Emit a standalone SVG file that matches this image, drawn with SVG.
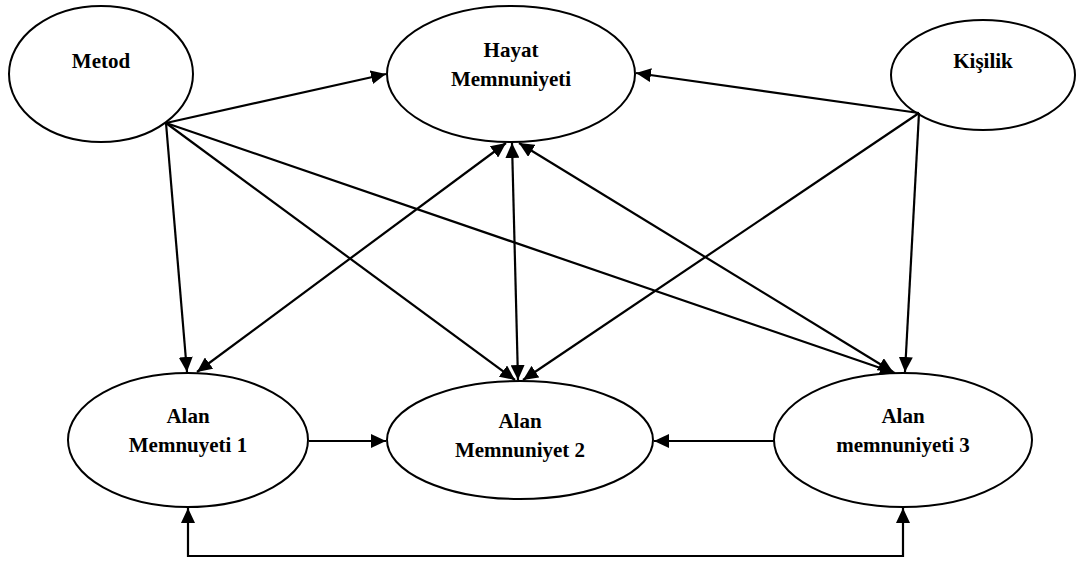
<svg xmlns="http://www.w3.org/2000/svg" width="1080" height="563" viewBox="0 0 1080 563">
<style>
.node ellipse{fill:#fff;stroke:#000;stroke-width:2}
.node text{font-family:"Liberation Serif","Times New Roman",serif;font-weight:bold;font-size:21px;fill:#000;text-anchor:middle}
.conn line,.conn path{stroke:#000;stroke-width:2.2;fill:none}
.one{marker-end:url(#ah)}
.two{marker-end:url(#ah);marker-start:url(#ah)}
</style>
<defs>
<marker id="ah" markerUnits="userSpaceOnUse" markerWidth="16" markerHeight="14" refX="15" refY="7" orient="auto-start-reverse" viewBox="0 0 16 14">
<path d="M0,0 L15,7 L0,14 z" fill="#000"/>
</marker>
</defs>
<rect width="1080" height="563" fill="#fff"/>
<g id="nodes">
<g id="metod" class="node"><ellipse cx="101" cy="74" rx="92" ry="68"/><text x="101" y="68">Metod</text></g>
<g id="hayat" class="node"><ellipse cx="511" cy="74" rx="124" ry="68"/><text x="511" y="57">Hayat</text><text x="511" y="86">Memnuniyeti</text></g>
<g id="kisilik" class="node"><ellipse cx="983" cy="75" rx="92" ry="55"/><text x="983" y="68">Kişilik</text></g>
<g id="alan1" class="node"><ellipse cx="188" cy="440" rx="120" ry="67"/><text x="188" y="423">Alan</text><text x="188" y="452">Memnuyeti 1</text></g>
<g id="alan2" class="node"><ellipse cx="520" cy="440" rx="133" ry="59"/><text x="520" y="428">Alan</text><text x="520" y="457">Memnuniyet 2</text></g>
<g id="alan3" class="node"><ellipse cx="903" cy="440" rx="129" ry="67"/><text x="903" y="423">Alan</text><text x="903" y="452">memnuniyeti 3</text></g>
</g>
<g id="connectors" class="conn">
<line class="one" x1="166" y1="123" x2="386" y2="74"/>
<line class="one" x1="166" y1="123" x2="187" y2="372"/>
<line class="one" x1="166" y1="123" x2="515" y2="380"/>
<line class="one" x1="166" y1="123" x2="895" y2="373"/>
<line class="one" x1="919" y1="113" x2="636" y2="73"/>
<line class="one" x1="919" y1="113" x2="523" y2="380"/>
<line class="one" x1="919" y1="113" x2="905" y2="372"/>
<line class="two" x1="197" y1="372" x2="506" y2="143"/>
<line class="two" x1="518" y1="380" x2="512" y2="143"/>
<line class="two" x1="893" y1="372" x2="519" y2="143"/>
<line class="one" x1="309" y1="441" x2="386" y2="441"/>
<line class="one" x1="774" y1="441" x2="654" y2="441"/>
<path class="two" d="M188,508 L188,556 L903,556 L903,508"/>
</g>
</svg>
